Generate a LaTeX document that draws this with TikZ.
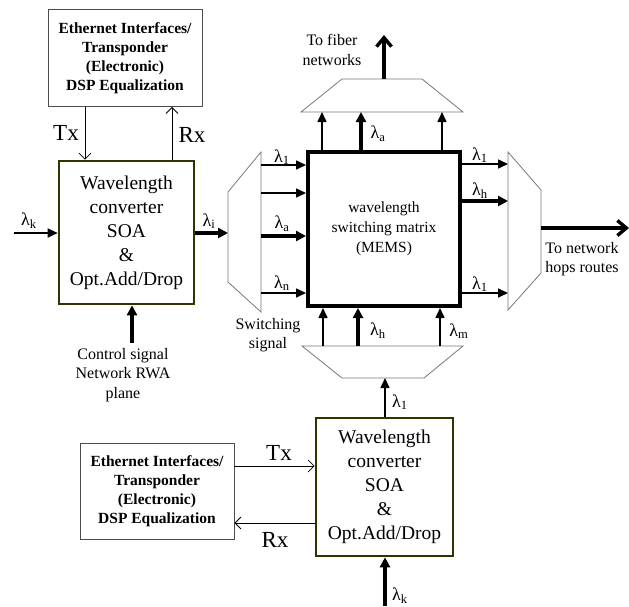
\documentclass[tikz,border=0pt]{standalone}
\usepackage{fontspec}
\setmainfont{Liberation Serif}
\usetikzlibrary{arrows.meta}
\definecolor{boxolive}{RGB}{51,51,0}
\definecolor{muxgray}{RGB}{120,120,120}
\tikzset{
  ethbox/.style={draw=black!70,line width=0.8pt,minimum width=154pt,minimum height=97pt,align=center,
    font=\fontsize{15.5}{19}\selectfont\bfseries,inner sep=0pt},
  convbox/.style={draw=boxolive,line width=2.6pt,align=center,inner sep=0pt,
    font=\fontsize{19.5}{24}\selectfont},
  lab/.style={font=\fontsize{16}{19.5}\selectfont,align=center,inner sep=0pt},
  lam/.style={font=\fontsize{18}{18}\selectfont,inner sep=0pt},
  txrx/.style={font=\fontsize{23}{24}\selectfont,inner sep=0pt},
  sig/.style={line width=1.6pt,-{Triangle[length=10pt,width=9pt]}},
  bigsig/.style={line width=3.2pt,-{Triangle[length=10pt,width=10pt]}},
  outsig/.style={line width=3.4pt,-{Straight Barb[length=9pt,width=15pt]}},
  elec/.style={line width=0.8pt,-{Straight Barb[length=6pt,width=12pt]}},
  mux/.style={draw=muxgray,line width=0.8pt}
}
\begin{document}
\begin{tikzpicture}[x=1pt,y=-1pt]
\useasboundingbox (0,0) rectangle (629,606);
% electronic blocks
\node[ethbox] (eth1) at (125,58) {Ethernet Interfaces/\\Transponder\\(Electronic)\\DSP Equalization};
\node[ethbox,minimum height=96pt] (eth2) at (157,491) {Ethernet Interfaces/\\Transponder\\(Electronic)\\DSP Equalization};
% wavelength converters
\node[convbox,minimum width=135pt,minimum height=143pt] (wc1) at (126.5,232.5) {Wavelength\\converter\\SOA\\\&\\Opt.Add/Drop};
\node[convbox,minimum width=137pt,minimum height=138pt] (wc2) at (384.5,487) {Wavelength\\converter\\SOA\\\&\\Opt.Add/Drop};
% switching matrix
\node[draw,line width=4pt,minimum width=152pt,minimum height=154pt,align=center,inner sep=0pt,
  font=\fontsize{15.5}{20}\selectfont] (mtx) at (384,229) {wavelength\\switching matrix\\(MEMS)};
% mux / demux
\draw[mux] (228,192) -- (261,152) -- (261,312) -- (228,282) -- cycle;
\draw[mux] (508,152) -- (541,190) -- (541,273) -- (508,310) -- cycle;
\draw[mux] (301,112) -- (342,79) -- (422,79) -- (463,112) -- cycle;
\draw[mux] (302,346) -- (463,346) -- (424,378) -- (342,378) -- cycle;
\coordinate (dmxL) at (228,233);
\coordinate (dmxR) at (261,0);
\coordinate (muxR) at (508,0);
\coordinate (muxRo) at (541,228);
\coordinate (muxT) at (0,112);
\coordinate (muxTo) at (384,79);
\coordinate (muxB) at (0,346);
\coordinate (muxBi) at (385,378);
% free ends
\coordinate (kin) at (14,233);
\coordinate (fiber) at (384,35);
\coordinate (hops) at (629,228);
\coordinate (ctrl) at (132,343);
\coordinate (kin2) at (385,606);
% Tx / Rx
\draw[elec] (eth1.south -| 85,0) -- (wc1.north -| 85,0);
\draw[elec] (wc1.north -| 172,0) -- (eth1.south -| 172,0);
\draw[elec] (eth2.east |- 0,466) -- (wc2.west |- 0,466);
\draw[elec] (wc2.west |- 0,523) -- (eth2.east |- 0,523);
\node[txrx] at (66,133) {Tx};
\node[txrx] at (192,135) {Rx};
\node[txrx] at (279,453) {Tx};
\node[txrx] at (275,540) {Rx};
% converter 1
\draw[sig] (kin) -- (wc1.west |- kin);
\draw[bigsig] (wc1.east |- dmxL) -- (dmxL);
\draw[bigsig] (ctrl) -- (wc1.south -| ctrl);
\node[lam] at (29,221) {λ\textsubscript{k}};
\node[lam] at (209,221) {λ\textsubscript{i}};
% into the matrix
\foreach \y in {165,193,293}
  \draw[sig] (dmxR |- 0,\y) -- (mtx.west |- 0,\y);
\draw[bigsig] (dmxR |- 0,236) -- (mtx.west |- 0,236);
\node[lam] at (282,157) {λ\textsubscript{1}};
\node[lam] at (282,224) {λ\textsubscript{a}};
\node[lam] at (282,283) {λ\textsubscript{n}};
% up to the fiber networks
\draw[sig] (mtx.north -| 322,0) -- (muxT -| 322,0);
\draw[bigsig] (mtx.north -| 361,0) -- (muxT -| 361,0);
\draw[sig] (mtx.north -| 442,0) -- (muxT -| 442,0);
\draw[outsig] (muxTo) -- (fiber);
\node[lam] at (378,134) {λ\textsubscript{a}};
% out to the network hops
\draw[sig] (mtx.east |- 0,164) -- (muxR |- 0,164);
\draw[bigsig] (mtx.east |- 0,201) -- (muxR |- 0,201);
\draw[sig] (mtx.east |- 0,293) -- (muxR |- 0,293);
\draw[outsig] (muxRo) -- (hops);
\node[lam] at (480,155) {λ\textsubscript{1}};
\node[lam] at (480,191) {λ\textsubscript{h}};
\node[lam] at (480,284) {λ\textsubscript{1}};
% from below
\draw[sig] (muxB -| 323,0) -- (mtx.south -| 323,0);
\draw[bigsig] (muxB -| 358,0) -- (mtx.south -| 358,0);
\draw[sig] (muxB -| 440,0) -- (mtx.south -| 440,0);
\draw[sig] (wc2.north -| muxBi) -- (muxBi);
\draw[bigsig] (kin2) -- (wc2.south -| kin2);
\node[lam] at (378,331) {λ\textsubscript{h}};
\node[lam] at (459,331) {λ\textsubscript{m}};
\node[lam] at (400,402) {λ\textsubscript{1}};
\node[lam] at (400,596) {λ\textsubscript{k}};
% captions
\node[lab] at (332,50) {To fiber\\networks};
\node[lab] at (582,259) {To network\\hops routes};
\node[lab] at (268,335) {Switching\\signal};
\node[lab] at (123,375) {Control signal\\Network RWA\\plane};
\end{tikzpicture}
\end{document}
